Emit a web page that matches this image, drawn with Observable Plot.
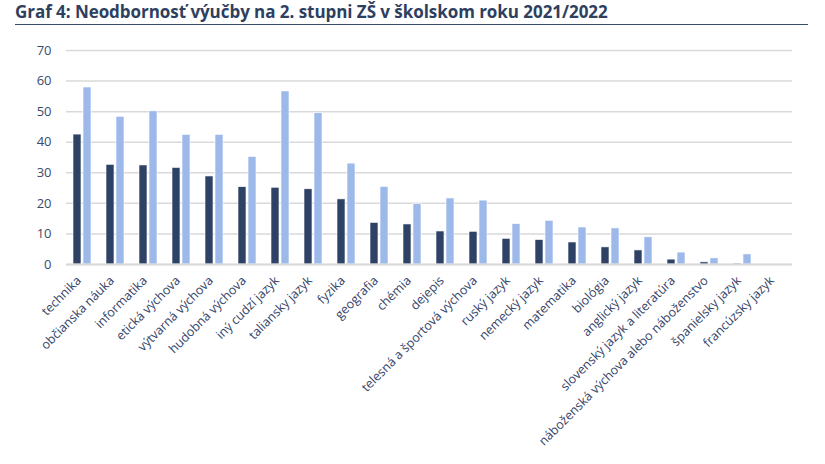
<!DOCTYPE html>
<html>
<head>
<meta charset="utf-8">
<script src="https://cdn.jsdelivr.net/npm/d3@7"></script>
<script src="https://cdn.jsdelivr.net/npm/@observablehq/plot@0.6"></script>
<style>
  html, body { margin: 0; padding: 0; background: #fff; }
  #wrap { position: relative; width: 825px; height: 464px; overflow: hidden; }
  #title {
    position: absolute; left: 15px; top: 1px; width: 793px;
    font-family: "Open Sans", sans-serif; font-weight: 700; font-size: 17px; line-height: 22px;
    color: #2e3f5f; padding-bottom: 1px; border-bottom: 1.5px solid #3b4b6a;
    white-space: nowrap; letter-spacing: -0.05px;
  }
  #chart { position: absolute; left: 0; top: 0; }
  #chart g[aria-label="y-axis tick label"] { font-size: 13px; }
</style>
</head>
<body>
<div id="wrap">
  <div id="title">Graf 4: Neodbornosť výučby na 2. stupni ZŠ v školskom roku 2021/2022</div>
  <div id="chart"></div>
</div>
<script>
const categories = [
  "technika", "občianska náuka", "informatika", "etická výchova", "výtvarná výchova",
  "hudobná výchova", "iný cudzí jazyk", "taliansky jazyk", "fyzika", "geografia",
  "chémia", "dejepis", "telesná a športová výchova", "ruský jazyk", "nemecký jazyk",
  "matematika", "biológia", "anglický jazyk", "slovenský jazyk a literatúra",
  "náboženská výchova alebo náboženstvo", "španielsky jazyk", "francúzsky jazyk"
];
const seriesNames = ["séria 1", "séria 2"];
const series1 = [42.5, 32.6, 32.4, 31.6, 28.8, 25.3, 25.1, 24.6, 21.3, 13.6, 13.1, 10.8, 10.7, 8.4, 8.0, 7.2, 5.6, 4.6, 1.6, 0.7, 0.3, 0];
const series2 = [57.9, 48.3, 50.1, 42.4, 42.4, 35.2, 56.6, 49.5, 33.0, 25.4, 19.8, 21.6, 20.9, 13.2, 14.3, 12.1, 11.8, 8.9, 3.9, 2.0, 3.3, 0];
const yTicks = [0, 10, 20, 30, 40, 50, 60, 70];

const data = categories.flatMap((c, i) => [
  {cat: c, s: seriesNames[0], v: series1[i]},
  {cat: c, s: seriesNames[1], v: series2[i]}
]);

const chart = Plot.plot({
  width: 825,
  height: 464,
  marginTop: 50,
  marginBottom: 200,
  marginLeft: 62,
  marginRight: 30,
  style: {fontFamily: "'Open Sans', sans-serif", fontSize: "12.5px", color: "#3b4a6b", background: "transparent"},
  fx: {domain: categories, padding: 0, label: null},
  x: {domain: seriesNames, axis: null, paddingInner: 0.18, paddingOuter: 0.6},
  y: {domain: [0, 70], ticks: yTicks, label: null, tickSize: 0, tickPadding: 15},
  color: {domain: seriesNames, range: ["#2e4266", "#9cb9ea"]},
  marks: [
    Plot.gridY(yTicks, {stroke: "#d9d9d9", strokeOpacity: 1, strokeWidth: 1.5}),
    Plot.barY(data, {fx: "cat", x: "s", y: "v", fill: "s", stroke: "#ffffff", strokeWidth: 0.6}),
    Plot.ruleY([0], {stroke: "#d9d9d9", strokeWidth: 2}),
    Plot.axisFx({anchor: "bottom", label: null, tickRotate: -45, tickSize: 0, tickPadding: 6, dx: -4, dy: 8, fontSize: 12.5, fill: "#34446a"})
  ]
});
document.getElementById("chart").appendChild(chart);
</script>
</body>
</html>
